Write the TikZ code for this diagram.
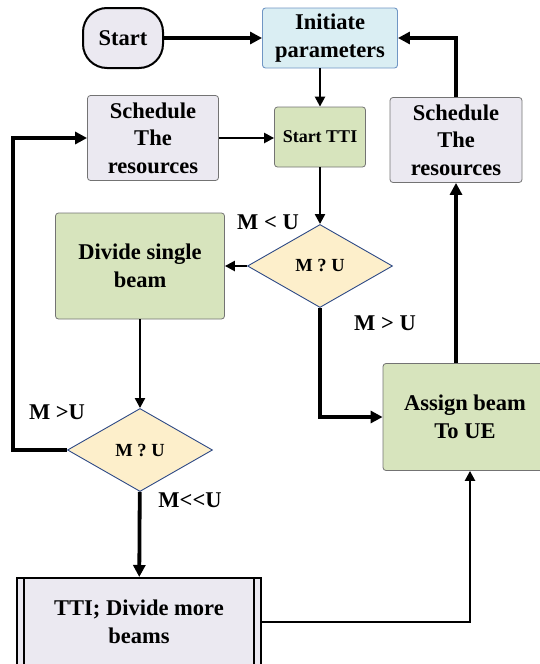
\documentclass[tikz,border=0pt]{standalone}
\usepackage{fontspec}
\setmainfont{Liberation Serif}
\newfontfamily\plainserif{Liberation Serif}
\usetikzlibrary{shapes.geometric}
\usetikzlibrary{arrows.meta}
\definecolor{cLav}{HTML}{EBE9F1}
\definecolor{cBlue}{HTML}{DAEEF3}
\definecolor{cBlueLine}{HTML}{7096C4}
\definecolor{cGreen}{HTML}{D7E4BD}
\definecolor{cOchre}{HTML}{FDEFCB}
\definecolor{cNavy}{HTML}{2E4A86}

\begin{document}
\begin{tikzpicture}[
			x=1pt, y=-1pt,
			font=\bfseries\fontsize{22.5}{27.5}\selectfont,
			every node/.style={align=center, inner sep=2pt},
			graybox/.style={draw=black!55, line width=0.8pt, rounded corners=3pt, fill=cLav},
			greenbox/.style={draw=black!55, line width=0.8pt, rounded corners=3pt, fill=cGreen},
			decision/.style={diamond, draw=cNavy, fill=cOchre, line width=0.9pt,
				minimum width=145pt, minimum height=83pt, inner sep=0pt,
				font=\bfseries\fontsize{18.5}{21}\selectfont},
			thickline/.style={line width=3.8pt, -{Triangle[length=12pt,width=12pt]}},
			thinline/.style={line width=2.3pt, -{Triangle[length=10pt,width=10pt]}},
			]
			\useasboundingbox (0,0) rectangle (539,664);
			%% boxes
			\node[draw=black, line width=2pt, fill=cLav, rounded corners=24pt,
				minimum width=80pt, minimum height=60pt] (start) at (123,38) {Start};
			\node[draw=cBlueLine, line width=0.9pt, fill=cBlue, rounded corners=3pt,
				minimum width=135pt, minimum height=60pt] (init) at (330,38) {Initiate\\parameters};
			\node[graybox, minimum width=131pt, minimum height=85pt] (schedL) at (153,138) {Schedule\\The\\resources};
			\node[greenbox, minimum width=91pt, minimum height=60pt,
				font=\bfseries\fontsize{18}{21}\selectfont] (tti) at (320,137) {Start TTI};
			\node[graybox, minimum width=132pt, minimum height=85pt] (schedR) at (456,140) {Schedule\\The\\resources};
			\node[decision] (dec1) at (320,266) {M ? U};
			\node[greenbox, minimum width=169pt, minimum height=106pt] (divide) at (140,266) {Divide single\\beam};
			\node[decision] (dec2) at (140,450) {M ? U};
			\node[greenbox, minimum width=164pt, minimum height=107pt] (assign) at (465,417) {Assign beam\\To UE};
			\node[draw=black, line width=2pt, fill=cLav, minimum width=244pt, minimum height=88pt] (more) at (139,622) {TTI; Divide more\\beams};
			\draw[line width=2pt] ([xshift=8pt]more.north west) -- ([xshift=8pt]more.south west);
			\draw[line width=2pt] ([xshift=-8pt]more.north east) -- ([xshift=-8pt]more.south east);
			%% labels
			\node (lt1) at (268,222) {M < U};
			\node (gt1) at (385,323) {M > U};
			\node (gt2) at (57,412) {M >U};
			\node[font=\plainserif\bfseries\fontsize{22.5}{27.5}\selectfont] (ll2) at (190,500) {M<<U};
			%% connectors
			\coordinate (loop) at (13,450);
			\draw[thickline] (start) -- (init);
			\draw[thinline] (init.south -| tti.north) -- (tti.north);
			\draw[thinline] (schedL.east) -- (schedL.east -| tti.west);
			\draw[thinline] (tti) -- (dec1);
			\draw[thinline] (dec1) -- (divide);
			\draw[thickline] (dec1.south) |- (assign.west);
			\draw[thickline] (assign.north -| schedR) -- (schedR.south);
			\draw[thickline] (schedR.north) |- (init.east);
			\draw[thinline] (divide) -- (dec2);
			\draw[thickline] (dec2.west) -- (loop) |- (schedL.west);
			\draw[thickline] (dec2) -- (more);
			\draw[thinline] (more.east) -| ([xshift=5pt]assign.south);
		\end{tikzpicture}
\end{document}
